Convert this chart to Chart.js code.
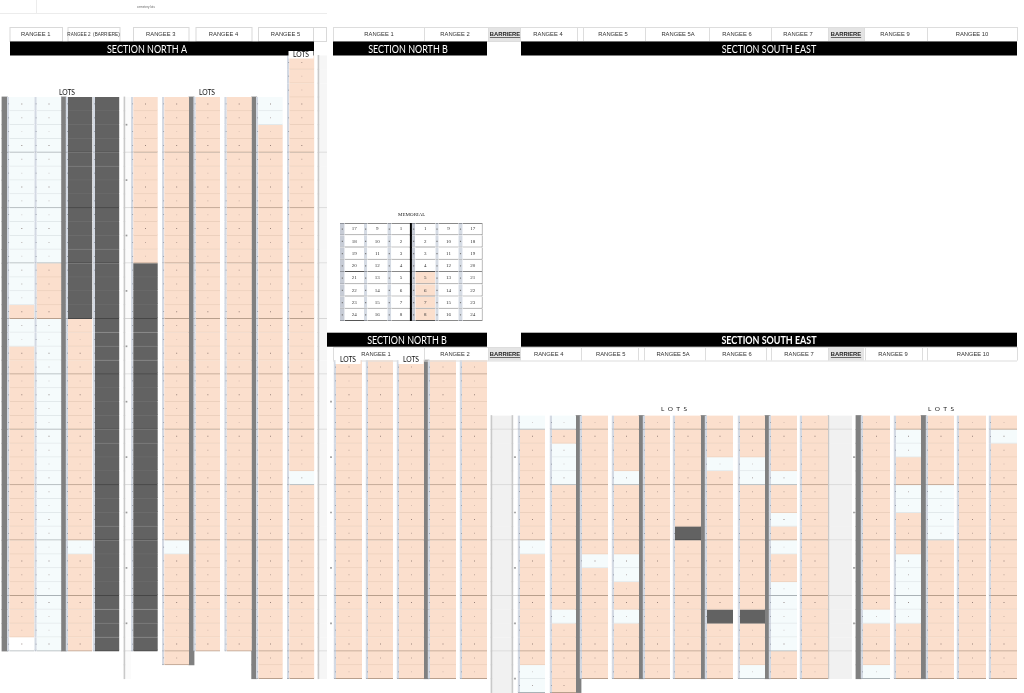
<!DOCTYPE html>
<html><head><meta charset="utf-8">
<style>html,body{margin:0;padding:0;background:#fff;overflow:hidden}
#plan{position:absolute;left:0;top:0}
#memorial{position:absolute;left:340px;top:223px}</style>
<script src="https://cdn.jsdelivr.net/npm/chart.js@4"></script>
</head><body>
<canvas id="plan" width="1024" height="693"></canvas>
<canvas id="memorial" width="143" height="98"></canvas>
<script>
// ---- lot values: one entry per lot column, in row numbers ----
const lotColumns = ['A1','A2','A3','A4','A5','A6','A7','A8','A9','A10','B1','B2','B3','B4','B5','E1','E2','E3','E4','E5','E6','E7','E8','E9','E10','E11','E12','E13','E14','E15'];
const firstRow = [0,0,0,0,0,0,0,0,0,-3, 19,19,19,19,19, 23,23,23,23,23,23,23,23,23,23,23,23,23,23,23];
const endRow   = [40,40,40,40,40,41,40,40,42,42, 42,42,42,42,42, 43,43,42,42,42,42,42,42,42,42,42,42,42,42,42];
const freeRows = [
 [0,1,2,3,4,5,6,7,8,9,10,11,12,13,14,16,17],
 [0,1,2,3,4,5,6,7,8,9,10,11,16,17,18,19,20,21,22,23,24,25,26,27,28,29,30,31,32,33,34,35,36,37,38,39],
 [32],[],[],[32],[],[],[0,1],[27],
 [],[],[],[],[],
 [23,32,41,42],[23,25,26,27,37],[33],[27,33,34,37],[],[],[26],[26,27,41],[27,30,32,35,36,37,38,39],[],
 [37,41],[24,25,28,29,33,34,35,36,37],[28,29,30,31],[],[24]
];
const closedRows = [
 [],[],[0,1,2,3,4,5,6,7,8,9,10,11,12,13,14,15],
 [0,1,2,3,4,5,6,7,8,9,10,11,12,13,14,15,16,17,18,19,20,21,22,23,24,25,26,27,28,29,30,31,32,33,34,35,36,37,38,39],
 [12,13,14,15,16,17,18,19,20,21,22,23,24,25,26,27,28,29,30,31,32,33,34,35,36,37,38,39],
 [],[],[],[],[],
 [],[],[],[],[],
 [],[],[],[],[],[31],[37],[37],[],[],[],[],[],[],[]
];
const blankRows = [[39],[],[],[],[],[],[],[],[],[], [],[],[],[],[], [],[37],[],[],[],[],[],[],[],[], [],[],[],[],[]];
// ---- layout of the plan (axis units) ----
const columnLeft  = [9.3,36.7,68,95,133.3,164.3,195.7,226.7,258.3,289.3, 336,368,399,430,462, 520,552,582,614,645,675,707,740,771,802, 863,896,928,959,991];
const columnRight = [34.3,61.3,92.3,119.3,157.7,189,220,251.7,282.7,314.3, 362,393,424,456,487, 545,576,608,639,670,701,733,765,797,828, 890,921,954,986,1017];
const spacerLeft  = [2,61.3,189,251.7,424,576,639,701,765,856,921];
const spacerRight = [7.3,66,194,256.7,429,581,644,706,770,861,926];
const spacerFirst = [0,0,0,0,19,23,23,23,23,23,23];
const spacerEnd   = [40,40,41,42,42,43,42,42,42,42,42];
const aisleLeft   = [491,828,124,318,512];
const aisleRight  = [512,852,131,327,518];
const aisleFirst  = [23,23,0,-3,23];
const aisleEnd    = [43,42,42,42,43];
const aisleFill   = ['#f1f1f1','#f1f1f1','#fbfbfb','#f6f6f6','#ffffff'];
const blockMarkX  = [126.5,331,515,854];
const blockMarkFirst = [2,22,26,26];
const blockMarkEnd   = [42,42,43,42];
// ---- texts ----
const topLabelsA = ['RANGEE 1','RANGEE 2  (BARRIERE)','RANGEE 3','RANGEE 4','RANGEE 5'];
const topEdgesA  = [9.5,62,67.5,119.5,133,188.5,195.5,251.5,258,313];
const rangeeLabels = ['RANGEE 1','RANGEE 2','BARRIERE','RANGEE 4','RANGEE 5','RANGEE 5A','RANGEE 6','RANGEE 7','BARRIERE','RANGEE 9','RANGEE 10'];
const topCentres   = [379,455,505,548,613,678,737,798,846,895,972];
const lowerCentres = [376,455,505,548.7,610.7,673,737,799,846,893,973];
const lowerDividers= [333,424,488,520,581,638,644,705,766,771,828,865,922,927,1017];
const topDividers  = [333,424,488,520,577,583,645,709,771,828,864,927,1017];
const barriereSpans= [[488,520],[828,864]];
const sections = ['SECTION NORTH A','SECTION NORTH B','SECTION SOUTH EAST','SECTION NORTH B','SECTION SOUTH EAST'];
const memorialTitle = 'MEMORIAL';
const memNumbers = [[17,18,19,20,21,22,23,24],[9,10,11,12,13,14,15,16],[1,2,3,4,5,6,7,8],[1,2,3,4,5,6,7,8],[9,10,11,12,13,14,15,16],[17,18,19,20,21,22,23,24]];
const memPeach = [[],[],[],[4,5,6,7],[],[]];

const ROW_PX = 13.85, ROW0_PX = 97;
const C = {peach:'#fbdfcd',peachL:'#ecd0bd',peachT:'#b89f8c',free:'#f5fbfc',freeL:'#e2e9eb',freeT:'#aab2b6',blank:'#ffffff',dark:'#626262',darkL:'#6b6b6b',darkT:'#464646',spacer:'#808080',strip:'#d3d9e3'};

function rowCells(first,end){const a=[];for(let r=first;r<end;r++)a.push(r);return a;}
function barSet(cx,w,rowsIn,fill,line,borders){
  const rows=rowsIn.slice().reverse();
  return {type:'bar',stack:'plan',barThickness:w,order:5,
    data:rows.map(r=>({x:cx,y:[r,r+1]})),
    backgroundColor:rows.map(fill),borderColor:rows.map(line),
    borderWidth:rows.map(borders),borderSkipped:false,inflateAmount:.4};
}
const datasets=[];
const rowEdge=()=>r=>({top:0,left:0,right:0,bottom:1});
lotColumns.forEach((name,i)=>{
  const rows=rowCells(firstRow[i],endRow[i]);
  const kind=r=>closedRows[i].includes(r)?'dark':freeRows[i].includes(r)?'free':blankRows[i].includes(r)?'blank':'peach';
  const thick=r=>(r%4===3||r===endRow[i]-1);
  const L=columnLeft[i],R=columnRight[i];
  datasets.push(Object.assign(barSet((L+R)/2,R-L,rows,
    r=>C[kind(r)],
    r=>{const k=kind(r);if(k==='dark')return thick(r)?C.darkT:C.darkL;if(k==='peach')return thick(r)?C.peachT:C.peachL;return thick(r)?C.freeT:C.freeL;},
    rowEdge()),{label:name}));
  datasets.push(Object.assign(barSet(L-1.15,2.3,rows,()=>C.strip,r=>thick(r)?'#a9afb8':C.strip,rowEdge()),{label:name+' numbers'}));
  const openRows=rows.filter(r=>kind(r)!=='dark');
  datasets.push({type:'scatter',label:name+' lot numbers',order:1,showLine:false,
    data:openRows.map(r=>({x:(L+R)/2,y:r+.5})),pointStyle:'rect',pointRadius:.7,pointBorderWidth:0,
    pointBackgroundColor:openRows.map(r=>r%3===0?'rgba(110,90,85,.7)':r%3===1?'rgba(130,110,105,.5)':'rgba(150,130,125,.35)')});
  datasets.push({type:'scatter',label:name+' ticks',order:1,showLine:false,
    data:rows.map(r=>({x:L-.6,y:r+.5})),pointStyle:'rect',pointRadius:.5,pointBorderWidth:0,pointBackgroundColor:'#6f7580'});
});
spacerLeft.forEach((L,i)=>{
  const R=spacerRight[i];
  datasets.push(Object.assign(barSet((L+R)/2,R-L,rowCells(spacerFirst[i],spacerEnd[i]),()=>C.spacer,()=>C.spacer,()=>0),{label:'spacer'}));
});
aisleLeft.forEach((L,i)=>{
  const R=aisleRight[i];const f=aisleFill[i];
  datasets.push(Object.assign(barSet((L+R)/2,R-L,rowCells(aisleFirst[i],aisleEnd[i]),()=>f,r=>(r%4===3?'#d6d6d6':f),()=>({top:0,left:0,right:0,bottom:1})),{label:'aisle',order:8}));
  datasets.push(Object.assign(barSet(L+.4,.8,rowCells(aisleFirst[i],aisleEnd[i]),()=>'#c9c9c9',()=>'#c9c9c9',()=>0),{label:'aisle edge',order:6}));
});
blockMarkX.forEach((x,i)=>{
  const rows=[];for(let r=blockMarkFirst[i];r<blockMarkEnd[i];r+=4)rows.push(r);
  datasets.push({type:'scatter',label:'block marks',order:1,showLine:false,data:rows.map(r=>({x,y:r})),pointStyle:'rect',pointRadius:1.2,pointBorderWidth:0,pointBackgroundColor:'#9a9a9a'});
});

function label(ctx,t,x,y,font,color,align){ctx.font=font;ctx.fillStyle=color;ctx.textAlign=align||'center';ctx.textBaseline='middle';ctx.fillText(t,x,y);}
function narrow(ctx,t,x,y,font,color,sx){ctx.save();ctx.translate(x,y);ctx.scale(sx,1);label(ctx,t,0,0,font,color);ctx.restore();}
const RANGE_FONT='5.8px "Liberation Sans"', BAND='"Lato"';
const textPlugin={id:'planText',afterDraw(chart){
  const c=chart.ctx;c.save();
  c.strokeStyle='#ececec';c.lineWidth=1;
  c.beginPath();c.moveTo(0,13.5);c.lineTo(327,13.5);c.moveTo(36.5,0);c.lineTo(36.5,13);c.stroke();
  label(c,'cemetery lots',146,6.7,'3px "Liberation Sans"','#666');
  c.strokeStyle='#d9d9d9';
  topLabelsA.forEach((t,i)=>{const a=topEdgesA[2*i],b=topEdgesA[2*i+1];c.strokeRect(a+.5,27.5,b-a,14);
    label(c,t,(a+b)/2,34.8,(i===1?'4.6px':'5.8px')+' "Liberation Sans"','#333');});
  c.strokeRect(313.5,27.5,13,14);
  [[27,41,topDividers,topCentres],[347,360.5,lowerDividers,lowerCentres]].forEach(([y0,y1,div,cen])=>{
    barriereSpans.forEach(s=>{c.fillStyle='#e4e4e4';c.fillRect(s[0],y0,s[1]-s[0],y1-y0);});
    c.strokeStyle='#dddddd';c.beginPath();c.moveTo(333,y0+.5);c.lineTo(1017,y0+.5);c.moveTo(333,y1+.5);c.lineTo(1017,y1+.5);
    div.forEach(d=>{c.moveTo(d+.5,y0);c.lineTo(d+.5,y1);});c.stroke();
    rangeeLabels.forEach((t,i)=>{
      const b=t==='BARRIERE';
      label(c,t,cen[i],(y0+y1)/2+.3,(b?'bold ':'')+RANGE_FONT,b?'#222':'#333');
      if(b){const w=c.measureText(t).width;c.fillStyle='#333';c.fillRect(cen[i]-w/2,(y0+y1)/2+3.3,w,.7);}
    });
  });
  const bands=[[10,314,41.5,55.5,147,false],[333,487,41.5,55.5,408,false],[521,1017,41.5,55.5,769,false],[327,487,332.7,346.7,407,false],[521,1017,332.7,346.7,769,true]];
  bands.forEach((b,i)=>{c.fillStyle='#000';c.fillRect(b[0],b[2],b[1]-b[0],b[3]-b[2]);
    narrow(c,sections[i],b[4],(b[2]+b[3])/2+.3,(b[5]?'bold ':'')+'11.5px '+BAND,'#fff',.78);});
  const lots=[[67,92.5],[207,92.5],[301,54.5,1],[348,360,1],[411,360,1]];
  lots.forEach(l=>{if(l[2]){c.fillStyle='#fff';c.fillRect(l[0]-12.5,l[1]-3.5,25,7.5);}
    narrow(c,'LOTS',l[0],l[1],'7.5px '+BAND,'#111',.9);});
  [[674,409],[941,409]].forEach(l=>{label(c,'L  O  T  S',l[0],l[1],'6.5px '+BAND,'#222');});
  label(c,memorialTitle,411.7,215,'5px "Liberation Serif"','#222');
  c.restore();
}};
new Chart(document.getElementById('plan'),{
  data:{datasets},
  options:{responsive:false,devicePixelRatio:1,animation:false,
    layout:{padding:0,autoPadding:false},
    plugins:{legend:{display:false},tooltip:{enabled:false}},
    scales:{x:{type:'linear',min:0,max:1024,display:false,offset:false},
      y:{type:'linear',reverse:true,stacked:false,min:(0-ROW0_PX)/ROW_PX,max:(693-ROW0_PX)/ROW_PX,display:false}}},
  plugins:[textPlugin]
});

// ---- memorial block ----
const memColumnLeft =[4.7,27.3,51.3,75.3,98.7,122.7];
const memColumnRight=[24,47.3,70.7,95.3,118.3,142.7];
const memStripLeft  =[0,24,47.3,72,95.3,118.3];
const memDatasets=[];
memNumbers.forEach((nums,i)=>{
  const rows=rowCells(0,8),L=memColumnLeft[i],R=memColumnRight[i],SL=memStripLeft[i];
  const brd=r=>({top:r===0?1:0,left:0,right:i===5?1:0,bottom:1});
  memDatasets.push(Object.assign(barSet((L+R)/2,R-L,rows,r=>memPeach[i].includes(r)?'#fbdfcd':'#ffffff',r=>(i%3===0&&r%2===1)?'#555':'#8a8a8a',brd),{label:'memorial lot',inflateAmount:0}));
  memDatasets.push(Object.assign(barSet((SL+L)/2,L-SL,rows,()=>i%3===0?'#c7ccd6':'#d5dbe4',()=>'#8f939b',r=>({top:r===0?1:0,left:0,right:0,bottom:1})),{label:'memorial strip',inflateAmount:0}));
  memDatasets.push({type:'scatter',label:'strip numbers',order:1,showLine:false,data:rows.map(r=>({x:(SL+L)/2,y:r+.5})),pointStyle:'rect',pointRadius:.8,pointBorderWidth:0,pointBackgroundColor:'#777'});
});
memDatasets.push(Object.assign(barSet(70.9,1.2,rowCells(0,8),()=>'#000',()=>'#000',()=>0),{label:'centre line',order:0}));
const memText={id:'memText',afterDatasetsDraw(chart){
  const c=chart.ctx,x=chart.scales.x,y=chart.scales.y;c.save();
  memNumbers.forEach((nums,i)=>nums.forEach((n,r)=>{
    label(c,String(n),x.getPixelForValue((memColumnLeft[i]+memColumnRight[i])/2),y.getPixelForValue(r+.5),'5px "Liberation Serif"','#333');
  }));
  c.restore();
}};
new Chart(document.getElementById('memorial'),{
  data:{datasets:memDatasets},
  options:{responsive:false,devicePixelRatio:1,animation:false,layout:{padding:0,autoPadding:false},
    plugins:{legend:{display:false},tooltip:{enabled:false}},
    scales:{x:{type:'linear',min:0,max:143,display:false,offset:false},y:{type:'linear',reverse:true,stacked:false,min:0,max:8,display:false}}},
  plugins:[memText]
});
</script>
</body></html>
